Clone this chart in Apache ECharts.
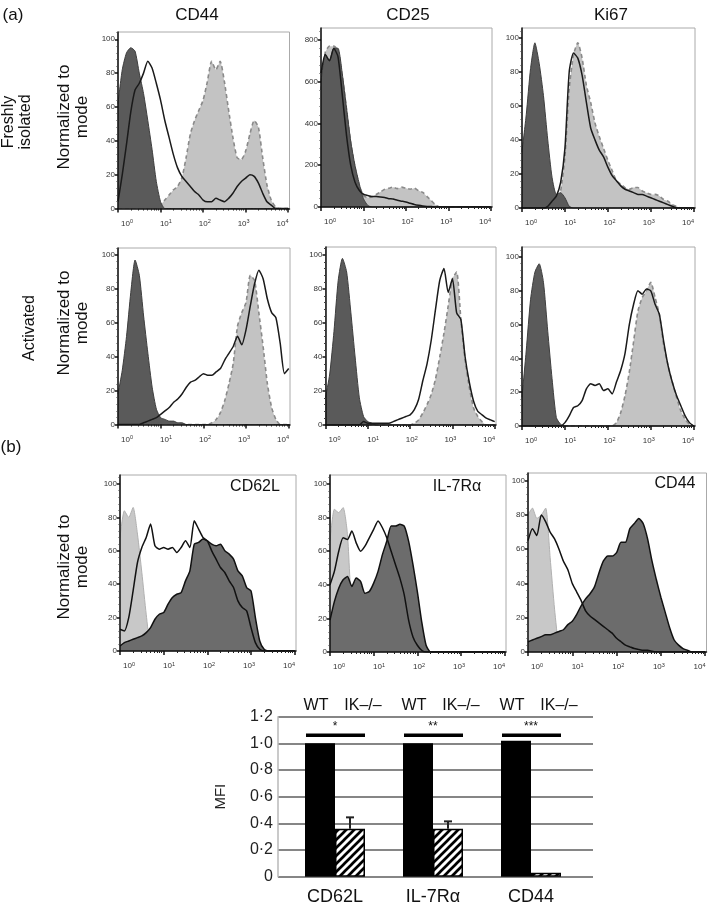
<!DOCTYPE html>
<html>
<head>
<meta charset="utf-8">
<script src="https://cdn.jsdelivr.net/npm/echarts/dist/echarts.min.js"></script>
<style>
  html, body { margin: 0; padding: 0; background: #fff; }
  #main { width: 709px; height: 906px; }
</style>
</head>
<body>
<div id="main"></div>
<script>
var FONT = "'Liberation Sans', Arial, Helvetica, sans-serif";

// x positions of the histogram samples, in decades (10^0 .. 10^4)
var LOG_X = [0, 0.1, 0.2, 0.3, 0.4, 0.5, 0.6, 0.7, 0.8, 0.9,
  1, 1.1, 1.2, 1.3, 1.4, 1.5, 1.6, 1.7, 1.8, 1.9,
  2, 2.1, 2.2, 2.3, 2.4, 2.5, 2.6, 2.7, 2.8, 2.9,
  3, 3.1, 3.2, 3.3, 3.4, 3.5, 3.6, 3.7, 3.8, 3.9,
  4];
var DECADES = [0, 1, 2, 3, 4];
var Y_TICKS_100 = [0, 20, 40, 60, 80, 100];
var Y_TICKS_800 = [0, 200, 400, 600, 800];

// (a) freshly isolated
var freshCD44Iso = [62, 82, 92, 95, 93, 80, 68, 52, 35, 16,
  4, 0, 0, 0, 0, 0, 0, 0, 0, 0,
  0, 0, 0, 0, 0, 0, 0, 0, 0, 0,
  0, 0, 0, 0, 0, 0, 0, 0, 0, 0,
  0];
var freshCD44Open = [4, 20, 38, 57, 70, 74, 80, 87, 83, 74,
  64, 52, 42, 32, 24, 19, 16, 13, 10, 8,
  5, 4, 4, 6, 5, 4, 6, 9, 13, 16,
  18, 20, 19, 15, 9, 4, 2, 0, 0, 0,
  0];
var freshCD44Grey = [0, 0, 0, 0, 0, 0, 0, 0, 0, 0,
  2, 5, 8, 11, 13, 18, 30, 44, 52, 58,
  64, 75, 87, 82, 87, 75, 58, 42, 30, 29,
  34, 44, 52, 48, 30, 14, 5, 1, 0, 0,
  0];

var freshCD25Iso = [600, 730, 700, 760, 760, 640, 477, 315, 200, 113,
  40, 8, 0, 0, 0, 0, 0, 0, 0, 0,
  0, 0, 0, 0, 0, 0, 0, 0, 0, 0,
  0, 0, 0, 0, 0, 0, 0, 0, 0, 0,
  0];
var freshCD25Open = [640, 730, 700, 760, 720, 540, 345, 200, 120, 80,
  61, 55, 50, 50, 48, 45, 40, 38, 32, 28,
  24, 18, 12, 8, 5, 3, 2, 0, 0, 0,
  0, 0, 0, 0, 0, 0, 0, 0, 0, 0,
  0];
var freshCD25Grey = [560, 740, 770, 770, 750, 630, 470, 310, 190, 105,
  55, 45, 48, 60, 72, 85, 90, 95, 88, 95,
  90, 85, 90, 78, 70, 50, 30, 10, 0, 0,
  0, 0, 0, 0, 0, 0, 0, 0, 0, 0,
  0];

var freshKi67Iso = [33, 55, 82, 97, 85, 66, 40, 18, 8, 9,
  6, 1, 0, 0, 0, 0, 0, 0, 0, 0,
  0, 0, 0, 0, 0, 0, 0, 0, 0, 0,
  0, 0, 0, 0, 0, 0, 0, 0, 0, 0,
  0];
var freshKi67Open = [0, 0, 0, 0, 0, 0, 1, 4, 7, 15,
  35, 80, 91, 88, 78, 62, 47, 40, 34, 30,
  24, 19, 16, 13, 11, 10, 9, 8, 8, 7,
  6, 5, 4, 3, 2, 1, 0, 0, 0, 0,
  0];
var freshKi67Grey = [0, 0, 0, 0, 0, 0, 0, 1, 3, 10,
  30, 70, 90, 97, 88, 72, 62, 50, 42, 35,
  28, 22, 16, 14, 12, 11, 12, 12, 10, 9,
  8, 8, 7, 5, 4, 2, 1, 0, 0, 0,
  0];

// (a) activated
var actCD44Iso = [18, 32, 52, 78, 97, 88, 64, 42, 22, 9,
  4, 3, 2, 2, 1, 1, 0, 0, 0, 0,
  0, 0, 0, 0, 0, 0, 0, 0, 0, 0,
  0, 0, 0, 0, 0, 0, 0, 0, 0, 0,
  0];
var actCD44Open = [0, 0, 0, 0, 0, 0, 1, 2, 3, 4,
  6, 8, 10, 13, 15, 18, 22, 25, 26, 28,
  30, 29, 29, 31, 33, 38, 42, 46, 52, 47,
  56, 70, 83, 91, 86, 74, 66, 63, 48, 30,
  33];
var actCD44Grey = [0, 0, 0, 0, 0, 0, 0, 0, 0, 0,
  0, 0, 0, 0, 0, 0, 0, 0, 0, 0,
  0, 0, 1, 3, 7, 14, 24, 36, 58, 66,
  72, 88, 85, 66, 46, 24, 10, 3, 0, 0,
  0];

var actCD25Iso = [16, 30, 55, 85, 98, 90, 66, 40, 16, 5,
  2, 1, 0, 0, 0, 0, 0, 0, 0, 0,
  0, 0, 0, 0, 0, 0, 0, 0, 0, 0,
  0, 0, 0, 0, 0, 0, 0, 0, 0, 0,
  0];
var actCD25Open = [0, 0, 0, 0, 0, 0, 0, 0, 0, 2,
  1, 1, 1, 1, 1, 1, 2, 3, 4, 5,
  6, 9, 15, 26, 36, 50, 68, 85, 92, 78,
  86, 66, 62, 40, 25, 14, 8, 6, 4, 3,
  2];
var actCD25Grey = [0, 0, 0, 0, 0, 0, 0, 0, 0, 0,
  0, 0, 0, 0, 0, 0, 0, 0, 0, 0,
  0, 1, 3, 7, 12, 18, 27, 40, 54, 70,
  86, 90, 62, 38, 22, 10, 5, 2, 0, 0,
  0];

var actKi67Iso = [17, 45, 75, 91, 96, 85, 56, 28, 5, 1,
  0, 0, 0, 0, 0, 0, 0, 0, 0, 0,
  0, 0, 0, 0, 0, 0, 0, 0, 0, 0,
  0, 0, 0, 0, 0, 0, 0, 0, 0, 0,
  0];
var actKi67Open = [0, 0, 0, 0, 0, 0, 0, 0, 0, 0,
  2, 6, 11, 12, 15, 22, 25, 24, 25, 21,
  22, 19, 26, 33, 43, 60, 72, 80, 78, 81,
  80, 72, 66, 50, 36, 26, 18, 12, 6, 2,
  0];
var actKi67Grey = [0, 0, 0, 0, 0, 0, 0, 0, 0, 0,
  0, 0, 0, 0, 0, 0, 0, 0, 0, 0,
  0, 0, 2, 8, 18, 32, 50, 68, 76, 80,
  85, 76, 66, 48, 36, 26, 17, 9, 4, 1,
  0];

// (b) WT vs IK-/- histograms
var bCD62LCtrl = [68, 84, 80, 86, 70, 47, 22, 2, 0, 0,
  0, 0, 0, 0, 0, 0, 0, 0, 0, 0,
  0, 0, 0, 0, 0, 0, 0, 0, 0, 0,
  0, 0, 0, 0, 0, 0, 0, 0, 0, 0,
  0];
var bCD62LOpen = [13, 12, 20, 36, 53, 62, 68, 76, 63, 61,
  62, 61, 62, 59, 62, 66, 62, 78, 73, 68,
  66, 60, 55, 50, 47, 42, 38, 30, 26, 24,
  14, 5, 1, 0, 0, 0, 0, 0, 0, 0,
  0];
var bCD62LFill = [3, 5, 6, 7, 8, 9, 11, 14, 19, 22,
  23, 28, 32, 34, 35, 42, 48, 64, 65, 67,
  66, 64, 63, 64, 60, 58, 55, 48, 45, 38,
  36, 20, 6, 1, 0, 0, 0, 0, 0, 0,
  0];

var bIL7RCtrl = [66, 85, 83, 86, 70, 22, 1, 0, 0, 0,
  0, 0, 0, 0, 0, 0, 0, 0, 0, 0,
  0, 0, 0, 0, 0, 0, 0, 0, 0, 0,
  0, 0, 0, 0, 0, 0, 0, 0, 0, 0,
  0];
var bIL7ROpen = [40, 48, 60, 68, 67, 72, 65, 60, 63, 68,
  73, 78, 74, 68, 60, 52, 44, 34, 19, 9,
  4, 1, 0, 0, 0, 0, 0, 0, 0, 0,
  0, 0, 0, 0, 0, 0, 0, 0, 0, 0,
  0];
var bIL7RFill = [19, 30, 38, 43, 45, 39, 44, 42, 35, 36,
  41, 48, 58, 66, 75, 75, 76, 75, 66, 52,
  36, 18, 4, 0, 0, 0, 0, 0, 0, 0,
  0, 0, 0, 0, 0, 0, 0, 0, 0, 0,
  0];

var bCD44Ctrl = [80, 84, 78, 80, 84, 55, 25, 3, 0, 0,
  0, 0, 0, 0, 0, 0, 0, 0, 0, 0,
  0, 0, 0, 0, 0, 0, 0, 0, 0, 0,
  0, 0, 0, 0, 0, 0, 0, 0, 0, 0,
  0];
var bCD44Open = [65, 72, 68, 80, 76, 70, 66, 60, 53, 48,
  40, 35, 30, 24, 21, 19, 17, 15, 13, 11,
  8, 6, 4, 3, 2, 1.5, 1, 1, 0.5, 0,
  0, 0, 0, 0, 0, 0, 0, 0, 0, 0,
  0];
var bCD44Fill = [6, 7, 8, 9, 10, 10, 11, 12, 13, 16,
  18, 22, 27, 31, 34, 38, 46, 53, 56, 56,
  58, 64, 64, 72, 75, 78, 75, 66, 53, 42,
  32, 23, 14, 7, 4, 2, 1, 0, 0, 0,
  0];

// MFI bar chart
var barGroups = ['CD62L', 'IL-7R\u03b1', 'CD44'];
var wtMFI = [1.0, 1.0, 1.02];
var ikMFI = [0.36, 0.36, 0.03];
var ikErr = [0.085, 0.055, 0];
var sigMarks = ['*', '**', '***'];
var sigLevel = [1.06, 1.06, 1.06];

// panel frames (pixels) and y-scale tops
var panels = [
  { left: 118, top: 32, right: 289.5, bottom: 208.5, yMax: 104.3, yStep: 20, yTicks: Y_TICKS_100, kind: 'a', grey: freshCD44Grey, fill: freshCD44Iso, open: freshCD44Open },
  { left: 321, top: 28, right: 492, bottom: 207, yMax: 857, yStep: 200, yTicks: Y_TICKS_800, kind: 'a', grey: freshCD25Grey, fill: freshCD25Iso, open: freshCD25Open },
  { left: 522, top: 28, right: 695, bottom: 208, yMax: 105.7, yStep: 20, yTicks: Y_TICKS_100, kind: 'a', grey: freshKi67Grey, fill: freshKi67Iso, open: freshKi67Open },
  { left: 118, top: 248, right: 290, bottom: 424.5, yMax: 104.1, yStep: 20, yTicks: Y_TICKS_100, kind: 'a', grey: actCD44Grey, fill: actCD44Iso, open: actCD44Open },
  { left: 325.5, top: 247, right: 496, bottom: 425, yMax: 104.7, yStep: 20, yTicks: Y_TICKS_100, kind: 'a', grey: actCD25Grey, fill: actCD25Iso, open: actCD25Open },
  { left: 522, top: 247, right: 695, bottom: 426, yMax: 105.9, yStep: 20, yTicks: Y_TICKS_100, kind: 'a', grey: actKi67Grey, fill: actKi67Iso, open: actKi67Open },
  { left: 120, top: 475, right: 296, bottom: 651, yMax: 105.4, yStep: 20, yTicks: Y_TICKS_100, kind: 'b', grey: bCD62LCtrl, fill: bCD62LFill, open: bCD62LOpen },
  { left: 330, top: 475, right: 506, bottom: 652, yMax: 105.4, yStep: 20, yTicks: Y_TICKS_100, kind: 'b', grey: bIL7RCtrl, fill: bIL7RFill, open: bIL7ROpen },
  { left: 528, top: 473, right: 706.5, bottom: 652, yMax: 104.5, yStep: 20, yTicks: Y_TICKS_100, kind: 'b', grey: bCD44Ctrl, fill: bCD44Fill, open: bCD44Open }
];

var X_MAX = 4.03;
var BAR_W = 30;

var minorX = [];
DECADES.slice(0, 4).forEach(function (d) {
  for (var k = 2; k < 10; k++) minorX.push(d + Math.log10(k));
});

function pairs(vals) {
  return LOG_X.map(function (x, i) { return [x, vals[i]]; });
}

var grids = [], xAxes = [], yAxes = [], series = [];

panels.forEach(function (p, i) {
  var w = p.right - p.left, h = p.bottom - p.top;
  grids.push({ left: p.left, top: p.top, width: w, height: h, show: true,
    borderColor: '#aaaaaa', borderWidth: 1, outerBoundsMode: 'none' });

  var xi = xAxes.length;
  xAxes.push({
    gridIndex: i, type: 'value', min: 0, max: X_MAX, position: 'bottom', z: 10,
    axisLine: { onZero: false, lineStyle: { color: '#111', width: 1.5 } },
    axisTick: { customValues: DECADES, length: 4, lineStyle: { color: '#111', width: 1.5 } },
    axisLabel: { show: false }, splitLine: { show: false }
  });
  xAxes.push({
    gridIndex: i, type: 'value', min: 0, max: X_MAX, position: 'bottom', z: 10,
    axisLine: { show: false, onZero: false },
    axisTick: { customValues: minorX, length: 2, lineStyle: { color: '#222', width: 1 } },
    axisLabel: { show: false }, splitLine: { show: false }
  });
  // decade labels sit slightly inside the tick span, as in the figure
  var span = 4 * w / (w - 16);
  var lmin = -9 * span / w;
  xAxes.push({
    gridIndex: i, type: 'value', min: lmin, max: lmin + span, position: 'bottom',
    axisLine: { show: false, onZero: false }, axisTick: { show: false }, splitLine: { show: false },
    axisLabel: {
      customValues: DECADES, margin: 10,
      formatter: function (v) { return '{b|10}{s|' + Math.round(v) + '}'; },
      rich: {
        b: { fontSize: 8, fontFamily: FONT, color: '#333', lineHeight: 10 },
        s: { fontSize: 5.5, fontFamily: FONT, color: '#333', verticalAlign: 'top', lineHeight: 6 }
      }
    }
  });

  yAxes.push({
    gridIndex: i, type: 'value', min: 0, max: p.yMax, interval: p.yStep, z: 10,
    axisLine: { show: true, onZero: false, lineStyle: { color: '#111', width: 1.5 } },
    axisTick: { customValues: p.yTicks, length: 3, lineStyle: { color: '#111', width: 1.5 } },
    minorTick: { show: true, splitNumber: 5, length: 1.5, lineStyle: { color: '#444' } },
    axisLabel: { customValues: p.yTicks, fontSize: 8, fontFamily: FONT, color: '#333', margin: 3 },
    splitLine: { show: false }, minorSplitLine: { show: false }
  });

  var base = { type: 'line', xAxisIndex: xi, yAxisIndex: i, showSymbol: false, symbol: 'none',
    smooth: 0.2, silent: true, animation: false };
  // z keeps each curve's area and outline stacked in drawing order
  if (p.kind === 'a') {
    series.push(Object.assign({}, base, { z: 2, data: pairs(p.grey),
      lineStyle: { color: '#8a8a8a', width: 1.6, type: [4, 3] },
      areaStyle: { color: '#c3c3c3', opacity: 1 } }));
    series.push(Object.assign({}, base, { z: 3, data: pairs(p.fill),
      lineStyle: { color: '#3e3e3e', width: 1 },
      areaStyle: { color: '#5a5a5a', opacity: 1 } }));
    series.push(Object.assign({}, base, { z: 4, data: pairs(p.open),
      lineStyle: { color: '#1a1a1a', width: 1.5 } }));
  } else {
    series.push(Object.assign({}, base, { z: 2, data: pairs(p.grey),
      lineStyle: { color: '#b0b0b0', width: 1 },
      areaStyle: { color: '#c8c8c8', opacity: 1 } }));
    series.push(Object.assign({}, base, { z: 3, data: pairs(p.fill),
      lineStyle: { color: '#111', width: 1.5 },
      areaStyle: { color: '#6c6c6c', opacity: 1 } }));
    series.push(Object.assign({}, base, { z: 4, data: pairs(p.open),
      lineStyle: { color: '#111', width: 1.5 } }));
  }
});

// bar chart: one grid carries the gridlines, the other the bars
var lineGrid = grids.length;
grids.push({ left: 278, top: 716.7, width: 315, height: 160, outerBoundsMode: 'none' });
var barGrid = grids.length;
grids.push({ left: 286, top: 716.7, width: 294, height: 160, outerBoundsMode: 'none' });

xAxes.push({ gridIndex: lineGrid, type: 'value', min: 0, max: 1, show: false });
var barX = xAxes.length;
xAxes.push({
  gridIndex: barGrid, type: 'category', data: barGroups,
  axisLine: { show: false }, axisTick: { show: false },
  axisLabel: { fontSize: 18, fontFamily: FONT, color: '#111', margin: 11 }
});

yAxes.push({
  gridIndex: lineGrid, type: 'value', min: 0, max: 1.2, interval: 0.2,
  name: 'MFI', nameLocation: 'middle', nameRotate: 90, nameGap: 50,
  nameTextStyle: { fontSize: 15, fontFamily: FONT, color: '#222' },
  axisLine: { show: true, onZero: false, lineStyle: { color: '#b8b8b8', width: 1.5 } },
  axisTick: { show: false },
  axisLabel: {
    fontSize: 16, fontFamily: FONT, color: '#222', margin: 5,
    formatter: function (v) { return v === 0 ? '0' : v.toFixed(1).replace('.', '\u00b7'); }
  },
  splitLine: { lineStyle: { color: '#5e5e5e', width: 1.5 } }
});
var barY = yAxes.length;
yAxes.push({ gridIndex: barGrid, type: 'value', min: 0, max: 1.2, show: false });

function hatch() {
  var c = document.createElement('canvas');
  c.width = 8; c.height = 8;
  var g = c.getContext('2d');
  g.fillStyle = '#fff';
  g.fillRect(0, 0, 8, 8);
  g.strokeStyle = '#000';
  g.lineWidth = 2.7;
  g.beginPath();
  g.moveTo(-1, 9); g.lineTo(9, -1);
  g.moveTo(-1, 1); g.lineTo(1, -1);
  g.moveTo(7, 9); g.lineTo(9, 7);
  g.stroke();
  return c;
}

series.push({
  type: 'bar', name: 'WT', xAxisIndex: barX, yAxisIndex: barY, data: wtMFI,
  barWidth: BAR_W, barGap: '0%', itemStyle: { color: '#000' }, animation: false
});
series.push({
  type: 'bar', name: 'IK\u2013/\u2013', xAxisIndex: barX, yAxisIndex: barY, data: ikMFI,
  barWidth: BAR_W, barGap: '0%',
  itemStyle: { color: { image: hatch(), repeat: 'repeat' }, borderColor: '#000', borderWidth: 1.5 },
  animation: false
});

// error whiskers on the IK-/- bars
series.push({
  type: 'custom', xAxisIndex: barX, yAxisIndex: barY, z: 5, animation: false,
  data: ikMFI.map(function (v, i) { return [i, v, ikErr[i]]; }),
  renderItem: function (params, api) {
    var i = api.value(0), v = api.value(1), e = api.value(2);
    if (!e) return;
    var b = api.coord([i, v]), t = api.coord([i, v + e]);
    var x = b[0] + BAR_W / 2;
    return { type: 'group', children: [
      { type: 'line', shape: { x1: x, y1: b[1], x2: x, y2: t[1] }, style: { stroke: '#222', lineWidth: 2 } },
      { type: 'line', shape: { x1: x - 4, y1: t[1], x2: x + 4, y2: t[1] }, style: { stroke: '#222', lineWidth: 2 } }
    ] };
  }
});

// significance bars and stars
series.push({
  type: 'custom', xAxisIndex: barX, yAxisIndex: barY, z: 5, animation: false,
  data: sigLevel.map(function (v, i) { return [i, v]; }),
  renderItem: function (params, api) {
    var c = api.coord([api.value(0), api.value(1)]);
    return { type: 'group', children: [
      { type: 'line', shape: { x1: c[0] - 29, y1: c[1], x2: c[0] + 30, y2: c[1] },
        style: { stroke: '#000', lineWidth: 3.5 } },
      { type: 'text', x: c[0], y: c[1] - 3,
        style: { text: sigMarks[params.dataIndex], align: 'center', verticalAlign: 'bottom',
          fontSize: 12, fontFamily: FONT, fill: '#111' } }
    ] };
  }
});

// WT / IK-/- column headers
series.push({
  type: 'custom', xAxisIndex: barX, yAxisIndex: barY, z: 5, animation: false, clip: false,
  data: barGroups.map(function (g, i) { return [i, 1.2]; }),
  renderItem: function (params, api) {
    var c = api.coord([api.value(0), api.value(1)]);
    var st = { align: 'center', verticalAlign: 'middle', fontSize: 16, fontFamily: FONT, fill: '#111' };
    return { type: 'group', children: [
      { type: 'text', x: c[0] - 19, y: c[1] - 11, style: Object.assign({ text: 'WT' }, st) },
      { type: 'text', x: c[0] + 28, y: c[1] - 11, style: Object.assign({ text: 'IK\u2013/\u2013' }, st) }
    ] };
  }
});

function label(text, x, y, size, rotate, lh) {
  return {
    type: 'text', x: x, y: y, rotation: rotate ? Math.PI / 2 : 0, silent: true,
    style: { text: text, align: 'center', verticalAlign: 'middle', fontSize: size,
      fontFamily: FONT, fill: '#111', lineHeight: lh || size + 2 }
  };
}

var graphics = [
  label('(a)', 13, 15, 17),
  label('(b)', 11, 447, 17),
  label('CD44', 197, 15, 17),
  label('CD25', 408, 15, 17),
  label('Ki67', 611, 15, 17),
  label('Freshly\nisolated', 17, 122, 16, true, 17),
  label('Activated', 30, 328, 16, true),
  label('Normalized to\nmode', 73, 117, 17, true, 18),
  label('Normalized to\nmode', 73, 323, 17, true, 18),
  label('Normalized to\nmode', 73, 567, 17, true, 18),
  label('CD62L', 255, 487, 16),
  label('IL-7R\u03b1', 457, 487, 16),
  label('CD44', 675, 484, 16)
];

var chart = echarts.init(document.getElementById('main'));
chart.setOption({
  backgroundColor: '#fff',
  animation: false,
  grid: grids,
  xAxis: xAxes,
  yAxis: yAxes,
  series: series,
  graphic: graphics
});
</script>
</body>
</html>
